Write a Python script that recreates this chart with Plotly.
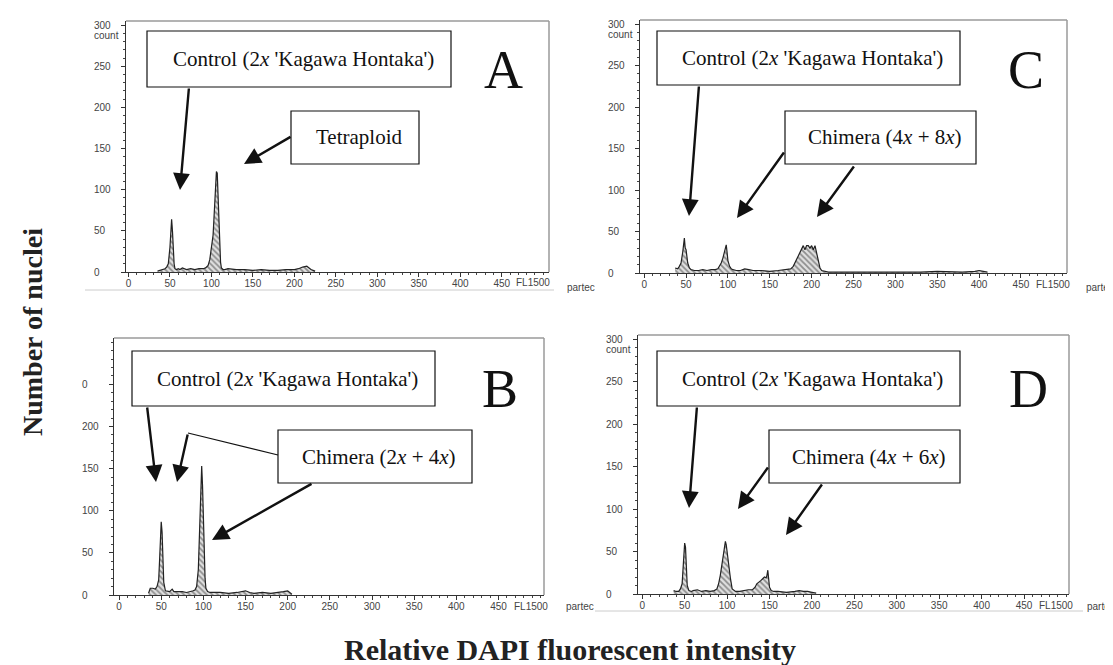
import plotly.graph_objects as go

W, H = 1113, 665

# ---------------- data ----------------
A_x = [35, 38, 40, 42, 44, 46, 48, 50, 51, 52, 53, 54, 55, 56, 58, 60, 62, 65, 70, 75, 80, 85, 90, 93, 96,
       98, 100, 102, 103, 104, 105, 106, 107, 108, 109, 110, 111, 112, 114, 116, 120, 130, 140, 150, 160,
       170, 180, 190, 200, 205, 210, 215, 218, 220, 225]
A_y = [1, 2, 2, 3, 4, 6, 10, 30, 48, 64, 50, 25, 10, 4, 3, 4, 3, 5, 3, 4, 3, 4, 4, 5, 8,
       15, 28, 45, 64, 80, 110, 122, 120, 95, 60, 30, 12, 5, 3, 3, 4, 3, 3, 2, 3,
       2, 2, 3, 3, 4, 6, 7, 5, 3, 1]

B_x = [35, 37, 40, 43, 45, 47, 48, 49, 50, 51, 52, 53, 55, 58, 60, 63, 65, 70, 75, 80, 85, 88, 90, 92, 94,
       95, 96, 97, 98, 99, 100, 101, 102, 103, 105, 108, 110, 120, 130, 140, 150, 155, 160, 170, 180,
       190, 195, 200, 203, 205]
B_y = [2, 8, 8, 7, 10, 18, 40, 70, 87, 75, 40, 15, 5, 4, 4, 7, 4, 4, 4, 3, 4, 5, 6, 10, 30,
       60, 95, 125, 153, 130, 90, 50, 20, 8, 4, 3, 3, 3, 2, 3, 5, 3, 2, 3, 2,
       3, 4, 5, 3, 1]

C_x = [37, 40, 42, 44, 46, 47, 48, 49, 50, 51, 52, 54, 56, 60, 65, 70, 75, 80, 85, 88, 90, 92, 94, 95, 96,
       97, 98, 99, 100, 102, 104, 106, 110, 115, 120, 125, 130, 140, 150, 160, 170, 175, 178, 180, 182,
       184, 186, 188, 190, 192, 194, 196, 198, 200, 202, 204, 206, 208, 210, 212, 215, 220, 230, 250, 270,
       300, 330, 350, 380, 395, 400, 405, 410]
C_y = [6, 5, 8, 12, 25, 35, 42, 30, 28, 20, 12, 6, 4, 3, 3, 4, 3, 4, 4, 5, 8, 12, 18, 22, 25,
       28, 34, 25, 15, 8, 5, 4, 3, 3, 5, 4, 3, 3, 2, 3, 4, 5, 8, 12, 18,
       22, 25, 28, 33, 28, 33, 33, 30, 33, 28, 33, 25, 15, 6, 3, 2, 1, 1, 1, 1,
       1, 1, 2, 1, 2, 3, 2, 1]

D_x = [37, 40, 43, 45, 47, 48, 49, 50, 51, 52, 53, 55, 58, 60, 65, 70, 75, 80, 85, 88, 90, 92, 94, 96, 97,
       98, 99, 100, 101, 102, 104, 106, 110, 115, 120, 125, 130, 133, 135, 138, 140, 142, 144, 146, 147,
       148, 149, 150, 152, 155, 160, 170, 180, 185, 190, 195, 200, 205]
D_y = [4, 3, 3, 6, 12, 25, 45, 60, 55, 30, 10, 4, 3, 4, 5, 3, 4, 3, 4, 6, 12, 22, 35, 48, 55,
       62, 58, 50, 40, 30, 18, 6, 3, 3, 4, 5, 5, 8, 12, 14, 16, 18, 20, 19, 22,
       28, 15, 8, 4, 3, 3, 2, 3, 4, 3, 3, 2, 1]

x_tick_vals = [0, 50, 100, 150, 200, 250, 300, 350, 400, 450]
x_tick_text = ["0", "50", "100", "150", "200", "250", "300", "350", "400", "450"]
y_tick_vals = [0, 50, 100, 150, 200, 250, 300]
y_tick_text_full = ["0", "50", "100", "150", "200", "250", "300"]
y_tick_vals_B = [0, 50, 100, 150, 200, 250]
y_tick_text_B = ["0", "50", "100", "150", "200", "0"]

control_label = "Control (2<i>x</i> 'Kagawa Hontaka')"
labels_second = {"A": "Tetraploid", "B": "Chimera (2<i>x</i> + 4<i>x</i>)",
                 "C": "Chimera (4<i>x</i> + 8<i>x</i>)", "D": "Chimera (4<i>x</i> + 6<i>x</i>)"}

# ---------------- layout geometry (pixels) ----------------
panels = {
    "A": ("", 118, 541, 13, 264, [-3, 507]),
    "C": ("2", 632, 1059, 12, 265, [-5, 505]),
    "B": ("3", 106, 536, 330, 587, [-6, 504]),
    "D": ("4", 630, 1061, 327, 586, [-5, 503]),
}
data = {"A": (A_x, A_y), "B": (B_x, B_y), "C": (C_x, C_y), "D": (D_x, D_y)}


def px(x):
    return x / W


def py(y):
    return 1 - y / H


fig = go.Figure()
shapes = []
annotations = []

tickfont = dict(family="Liberation Sans", size=10, color="#444")
serif = "Liberation Serif"

for key, (suf, l, r, t, b, xr) in panels.items():
    xs, ys = data[key]
    fig.add_trace(go.Scatter(
        x=xs, y=ys, mode="lines", fill="tozeroy",
        line=dict(color="#222", width=1.2),
        fillcolor="rgba(0,0,0,0)",
        fillpattern=dict(shape="\\", fgcolor="#3a3a3a", bgcolor="#e0e0e0", size=4, solidity=0.45),
        xaxis="x" + suf, yaxis="y" + suf, showlegend=False, hoverinfo="skip"))
    common = dict(showline=True, linecolor="#333", linewidth=1.2, ticks="outside", ticklen=4,
                  tickcolor="#333", tickwidth=1, showgrid=False, zeroline=False, tickfont=tickfont,
                  minor=dict(dtick=10, ticklen=2, ticks="outside", tickcolor="#444"))
    yvals = y_tick_vals_B if key == "B" else y_tick_vals
    ytext = y_tick_text_B if key == "B" else y_tick_text_full
    fig.update_layout(**{
        "xaxis" + suf: dict(domain=[px(l), px(r)], range=xr, anchor="y" + suf,
                            tickvals=x_tick_vals, ticktext=x_tick_text, tickmode="array",
                            ticklabelstandoff=-2, **common),
        "yaxis" + suf: dict(domain=[py(b), py(t)], range=[0, 305], anchor="x" + suf,
                            tickvals=yvals, showticklabels=False, **common),
    })
    # left-aligned y tick labels (as in the original print-out)
    for v, s in zip(yvals, ytext):
        annotations.append(dict(text=s, xref="paper", x=px(l - 34), yref="y" + suf, y=v,
                                showarrow=False, font=tickfont, xanchor="left", yanchor="middle"))
    # grey frame on top and right
    shapes.append(dict(type="line", xref="paper", yref="paper", x0=px(l), x1=px(r), y0=py(t), y1=py(t),
                       line=dict(color="#9a9a9a", width=1.5)))
    shapes.append(dict(type="line", xref="paper", yref="paper", x0=px(r), x1=px(r), y0=py(t), y1=py(b),
                       line=dict(color="#9a9a9a", width=1.5)))
    # FL1500 label
    annotations.append(dict(text="FL1500", xref="x" + suf, x=488, yref="paper", y=py(b + 11),
                            showarrow=False, font=tickfont, xanchor="center", yanchor="middle"))
    if key != "B":
        annotations.append(dict(text="count", xref="paper", x=px(l - 34), yref="paper", y=py(t + 14),
                                showarrow=False, font=tickfont, xanchor="left", yanchor="middle"))

# partec labels
for (xp, yp) in [(573, 279), (1092, 279), (572, 598), (1093, 598)]:
    annotations.append(dict(text="partec", xref="paper", yref="paper", x=px(xp), y=py(yp),
                            showarrow=False, font=tickfont, xanchor="center", yanchor="middle"))

# faint photo-edge lines
for (x0, x1, yy) in [(77, 546, 282), (587, 1075, 603)]:
    shapes.append(dict(type="line", xref="paper", yref="paper", x0=px(x0), x1=px(x1), y0=py(yy), y1=py(yy),
                       line=dict(color="#cccccc", width=1)))

# ---------------- label boxes ----------------
boxes = [  # (left, right, top, bottom, text)
    (139, 443, 23, 79, control_label),
    (283, 411, 103, 156, labels_second["A"]),
    (649, 952, 23, 77, control_label),
    (777, 968, 103, 156, labels_second["C"]),
    (124, 427, 343, 398, control_label),
    (270, 464, 422, 475, labels_second["B"]),
    (649, 952, 343, 398, control_label),
    (761, 952, 422, 475, labels_second["D"]),
]
for (l, r, t, b, txt) in boxes:
    shapes.append(dict(type="rect", xref="paper", yref="paper", x0=px(l), x1=px(r), y0=py(b), y1=py(t),
                       line=dict(color="#111", width=1.2), fillcolor="white", layer="above"))
    annotations.append(dict(text=txt, xref="paper", yref="paper", x=px((l + r) / 2 + 4), y=py((t + b) / 2),
                            showarrow=False, font=dict(family=serif, size=21, color="#111"),
                            xanchor="center", yanchor="middle"))

# polyline in B
shapes.append(dict(type="line", xref="paper", yref="paper", x0=px(270), y0=py(447), x1=px(180), y1=py(425),
                   line=dict(color="#111", width=1.2)))

# ---------------- arrows (tail_x, tail_y, tip_x, tip_y) ----------------
arrows = [
    (181, 79, 172, 182), (284, 128, 236, 156),
    (691, 77, 681, 208), (777, 143, 729, 210), (847, 157, 809, 209),
    (139, 398, 148, 474), (180, 425, 169, 474), (305, 475, 204, 532),
    (689, 398, 681, 500), (761, 458, 730, 501), (815, 475, 778, 527),
]
for (tx, ty, hx, hy) in arrows:
    annotations.append(dict(text="", xref="paper", yref="paper", x=px(hx), y=py(hy),
                            ax=tx - hx, ay=ty - hy, axref="pixel", ayref="pixel",
                            showarrow=True, arrowhead=2, arrowsize=1.4, arrowwidth=2.4,
                            arrowcolor="#111"))

# ---------------- panel letters ----------------
for (letter, cx, cy) in [("A", 495, 63), ("C", 1018, 63), ("B", 492, 382), ("D", 1020, 382)]:
    annotations.append(dict(text=letter, xref="paper", yref="paper", x=px(cx), y=py(cy - 1),
                            showarrow=False, font=dict(family=serif, size=54, color="#111"),
                            xanchor="center", yanchor="middle"))

# ---------------- axis titles ----------------
annotations.append(dict(text="<b>Number of nuclei</b>", xref="paper", yref="paper", x=px(25), y=py(324),
                        textangle=-90, showarrow=False, font=dict(family=serif, size=28, color="#222"),
                        xanchor="center", yanchor="middle"))
annotations.append(dict(text="<b>Relative DAPI fluorescent intensity</b>", xref="paper", yref="paper",
                        x=px(562), y=py(641), showarrow=False,
                        font=dict(family=serif, size=30, color="#222"),
                        xanchor="center", yanchor="middle"))

fig.update_layout(width=W, height=H, margin=dict(l=0, r=0, t=0, b=0),
                  paper_bgcolor="white", plot_bgcolor="white",
                  shapes=shapes, annotations=annotations, showlegend=False)

fig.write_html("out.html")
